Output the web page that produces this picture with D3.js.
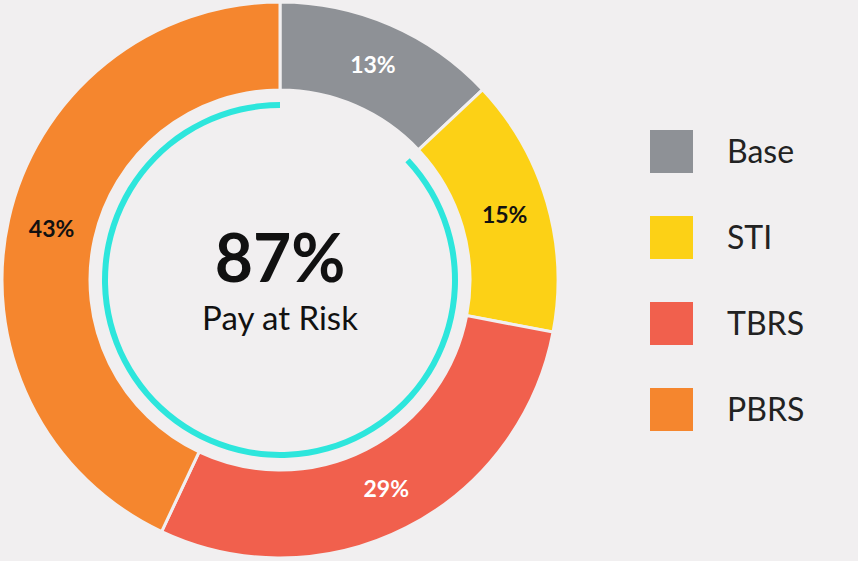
<!DOCTYPE html>
<html><head><meta charset="utf-8">
<script src="https://cdn.jsdelivr.net/npm/d3@7"></script>
<style>body{margin:0;background:#f1eff0;}svg{display:block;font-family:Lato,"Open Sans",sans-serif;}</style>
</head><body><div id="chart"></div>
<script>
const categories = ["Base", "STI", "TBRS", "PBRS"];
const values = [13, 15, 29, 43];
const colors = ["#8e9196", "#fcd116", "#f1604d", "#f5862e"];
const labelColors = ["#fff", "#111", "#fff", "#111"];
const atRisk = 87;

const width = 858, height = 561;
const cx = 280, cy = 280;

const svg = d3.select("#chart").append("svg")
  .attr("width", width).attr("height", height);

const g = svg.append("g").attr("transform", "translate(" + cx + "," + cy + ")");

const pie = d3.pie().sort(null).value(d => d);
const arc = d3.arc().innerRadius(190).outerRadius(278);
const labelArc = d3.arc().innerRadius(234).outerRadius(234);

const slices = pie(values);

g.selectAll(".arc")
  .data(slices)
  .enter().append("path")
  .attr("class", "arc")
  .attr("d", arc)
  .attr("fill", (d, i) => colors[i])
  .attr("stroke", "#f1eff0")
  .attr("stroke-width", 3);

g.selectAll(".lbl")
  .data(slices)
  .enter().append("text")
  .attr("class", "lbl")
  .attr("transform", d => "translate(" + labelArc.centroid(d) + ")")
  .attr("text-anchor", "middle")
  .attr("dy", "0.35em")
  .attr("font-size", 23)
  .attr("font-weight", "bold")
  .attr("fill", (d, i) => labelColors[i])
  .text(d => d.data + "%");

// pay-at-risk ring
const riskArc = d3.arc().innerRadius(172).outerRadius(178)
  .startAngle((1 - atRisk / 100) * Math.PI * 2).endAngle(Math.PI * 2);
g.append("path").attr("d", riskArc()).attr("fill", "#2de6dc");

g.append("text").attr("text-anchor", "middle").attr("y", 2)
  .attr("font-size", 66).attr("font-weight", "bold").attr("fill", "#111")
  .text(atRisk + "%");
g.append("text").attr("text-anchor", "middle").attr("y", 50)
  .attr("font-size", 33).attr("fill", "#111")
  .text("Pay at Risk");

// legend
const legend = svg.selectAll(".leg")
  .data(categories)
  .enter().append("g")
  .attr("transform", (d, i) => "translate(650," + (130 + i * 86) + ")");
legend.append("rect").attr("width", 43).attr("height", 43)
  .attr("fill", (d, i) => colors[i]);
legend.append("text").attr("x", 77).attr("y", 22).attr("dy", "0.35em")
  .attr("font-size", 32).attr("fill", "#222").text(d => d);
</script>
</body></html>
